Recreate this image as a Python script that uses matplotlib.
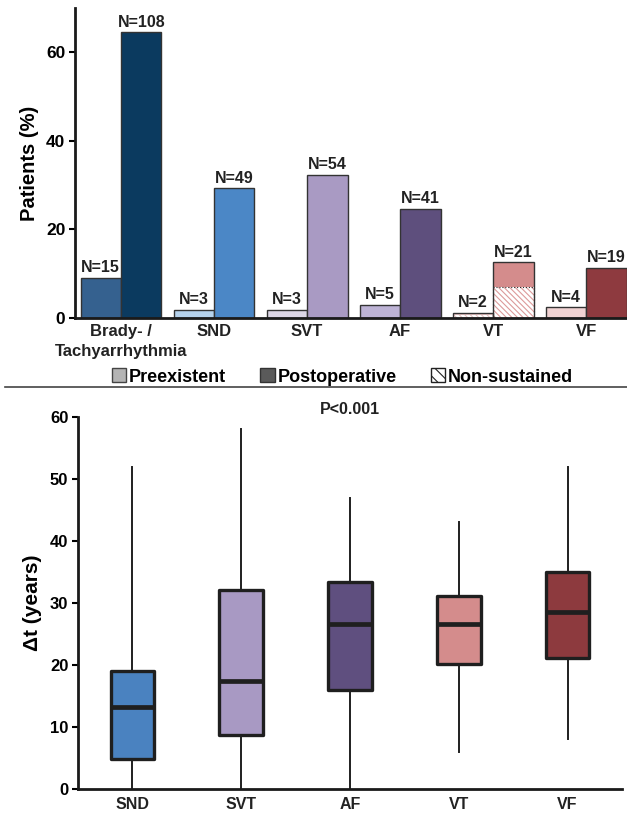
import numpy as np
import matplotlib
matplotlib.use("Agg")
import matplotlib.pyplot as plt
from matplotlib.patches import Patch

plt.rcParams['font.family'] = ['Liberation Sans', 'DejaVu Sans']
plt.rcParams['font.weight'] = 'bold'
plt.rcParams['hatch.linewidth'] = 0.8

# ---------- data: top panel ----------
groups = ["Brady- /\nTachyarrhythmia", "SND", "SVT", "AF", "VT", "VF"]
pre_pct = [9.0, 1.8, 1.8, 3.0, 1.2, 2.4]
post_pct = [64.5, 29.3, 32.3, 24.6, 12.6, 11.4]
pre_n = [15, 3, 3, 5, 2, 4]
post_n = [108, 49, 54, 41, 21, 19]
# non-sustained part of VT (hatched)
vt_ns_pre = 0.6
vt_ns_post = 7.0
pre_colors = ["#35618f", "#b5d2ec", "#dcd6e6", "#bdb3d5", "#e8c4c4", "#f0d2d2"]
post_colors = ["#0b3a5f", "#4b87c6", "#a99ac3", "#5e4f7d", "#d48c8c", "#8e3a3f"]

# ---------- data: bottom panel ----------
box_labels = ["SND", "SVT", "AF", "VT", "VF"]
box_low = [0, 0, 0, 6, 8]
box_q1 = [4.8, 8.7, 15.9, 20.1, 21.1]
box_med = [13.3, 17.5, 26.6, 26.6, 28.5]
box_q3 = [19.1, 32.1, 33.4, 31.1, 35.0]
box_high = [52, 58, 47, 43, 52]
box_colors = ["#4a82c0", "#a899c3", "#5f4f7f", "#d48c8c", "#8d3a3e"]

fig = plt.figure(figsize=(6.27, 8.15), dpi=100)

# ---------- top: grouped bars ----------
ax1 = fig.add_axes([0.1196, 0.6098, 0.8804, 0.3804])
x = np.arange(len(groups))
w = 0.435
edge = "#333333"
for i in range(len(groups)):
    xp = x[i] - w / 2
    xq = x[i] + w / 2
    if groups[i] == "VT":
        # hatched non-sustained parts, then solid remainder
        ax1.bar(xp, vt_ns_pre, w, color="white", edgecolor=pre_colors[i], hatch="\\\\\\\\\\\\", linewidth=0)
        ax1.bar(xp, pre_pct[i] - vt_ns_pre, w, bottom=vt_ns_pre, color=pre_colors[i], linewidth=0)
        ax1.bar(xq, vt_ns_post, w, color="white", edgecolor="#dc9a9a", hatch="\\\\\\\\\\\\", linewidth=0)
        ax1.bar(xq, post_pct[i] - vt_ns_post, w, bottom=vt_ns_post, color=post_colors[i], linewidth=0)
        ax1.bar(xp, pre_pct[i], w, fill=False, edgecolor=edge, linewidth=1)
        ax1.bar(xq, post_pct[i], w, fill=False, edgecolor=edge, linewidth=1)
        ax1.bar(xq, vt_ns_post, w, fill=False, edgecolor=edge, linewidth=0.8, linestyle=":")
    else:
        ax1.bar(xp, pre_pct[i], w, color=pre_colors[i], edgecolor=edge, linewidth=1)
        ax1.bar(xq, post_pct[i], w, color=post_colors[i], edgecolor=edge, linewidth=1)
    ax1.text(xp, pre_pct[i] + 0.6, f"N={pre_n[i]}", ha="center", va="bottom", fontsize=11.5, fontweight="bold", color="#222222")
    ax1.text(xq, post_pct[i] + 0.6, f"N={post_n[i]}", ha="center", va="bottom", fontsize=11.5, fontweight="bold", color="#222222")

ax1.set_xlim(-0.495, 5.44)
ax1.set_ylim(0, 70)
ax1.set_yticks([0, 20, 40, 60])
ax1.set_xticks(x)
# first line as tick label, any second line as its own text below
first_lines = [g.split("\n")[0] for g in groups]
ax1.set_xticklabels(first_lines, fontsize=12, fontweight="bold", color="#222222")
for i, g in enumerate(groups):
    parts = g.split("\n")
    if len(parts) > 1:
        ax1.annotate(parts[1], xy=(x[i], 0), xycoords=("data", "axes fraction"), xytext=(0, -19),
                     textcoords="offset points", ha="center", va="top", fontsize=12,
                     fontweight="bold", color="#222222")
ax1.tick_params(axis="x", length=0, pad=4)
ax1.tick_params(axis="y", length=4, width=1.5, labelsize=12.5, pad=3)
ax1.set_ylabel("Patients (%)", fontsize=14.5, fontweight="bold", labelpad=5)
for s in ["top", "right"]:
    ax1.spines[s].set_visible(False)
for s in ["left", "bottom"]:
    ax1.spines[s].set_linewidth(2)
    ax1.spines[s].set_color("#1a1a1a")

handles = [
    Patch(facecolor="#b4b4b4", edgecolor="#444444", label="Preexistent"),
    Patch(facecolor="#5a5a5a", edgecolor="#333333", label="Postoperative"),
    Patch(facecolor="white", edgecolor="#222222", hatch="\\\\\\", label="Non-sustained"),
]
fig.legend(handles=handles, loc="center", bbox_to_anchor=(0.546, 0.5375), ncol=3, frameon=False,
           fontsize=13, handlelength=0.8, handleheight=0.8, handletextpad=0.15, columnspacing=1.9)

# separator line
fig.add_artist(plt.Line2D([0.008, 1.0], [0.525, 0.525], color="#444444", linewidth=1.2, transform=fig.transFigure))

# ---------- bottom: boxplots ----------
ax2 = fig.add_axes([0.1244, 0.0319, 0.8676, 0.4564])
stats = []
for i in range(len(box_labels)):
    stats.append({"label": box_labels[i], "whislo": box_low[i], "q1": box_q1[i], "med": box_med[i],
                  "q3": box_q3[i], "whishi": box_high[i], "fliers": []})
bp = ax2.bxp(stats, positions=np.arange(len(box_labels)), widths=0.4, patch_artist=True, showcaps=False,
             showfliers=False,
             boxprops=dict(linewidth=2.4, edgecolor="#1f1f1f"),
             medianprops=dict(linewidth=3.4, color="#1f1f1f", solid_capstyle="butt"),
             whiskerprops=dict(linewidth=1.4, color="#1f1f1f"))
for patch, c in zip(bp["boxes"], box_colors):
    patch.set_facecolor(c)
    patch.set_joinstyle("round")

ax2.set_xlim(-0.5, 4.5)
ax2.set_ylim(0, 60)
ax2.set_yticks(np.arange(0, 61, 10))
ax2.set_xticklabels(box_labels, fontsize=11.5, fontweight="bold", color="#222222")
ax2.tick_params(axis="x", length=0, pad=6)
ax2.tick_params(axis="y", length=4, width=1.5, labelsize=12, pad=3)
ax2.set_ylabel("Δt (years)", fontsize=15, fontweight="bold", labelpad=6)
ax2.set_title("P<0.001", fontsize=11.5, fontweight="bold", pad=-9, color="#222222")
for s in ["top", "right"]:
    ax2.spines[s].set_visible(False)
for s in ["left", "bottom"]:
    ax2.spines[s].set_linewidth(2)
    ax2.spines[s].set_color("#1a1a1a")

fig.savefig("out.png", dpi=100)
